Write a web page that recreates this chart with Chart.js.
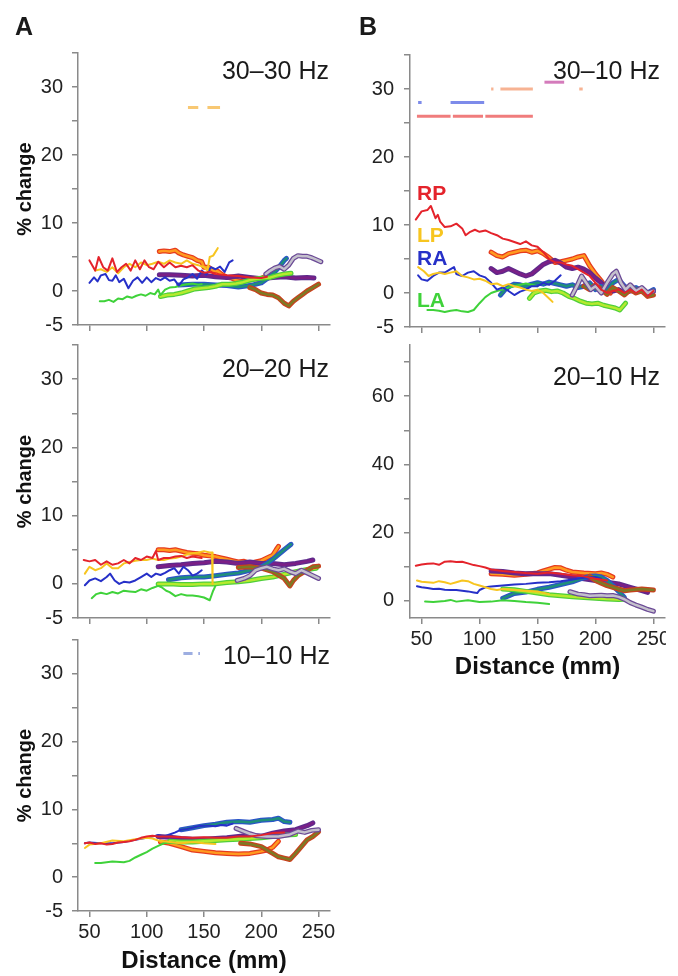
<!DOCTYPE html>
<html>
<head>
<meta charset="utf-8">
<script src="https://cdn.jsdelivr.net/npm/chart.js@4"></script>
<style>
  body { margin: 0; background: #fff; }
  #fig { position: relative; width: 678px; height: 976px; overflow: hidden; }
  canvas { position: absolute; }
  .txt { position: absolute; line-height: 1; white-space: nowrap; color: #1a1a1a; }
  .letter { font: bold 25px "Liberation Sans", Arial, sans-serif; }
  .hz { font: 25px "Liberation Sans", Arial, sans-serif; text-align: right; }
  .lab { font: bold 21px "Liberation Sans Narrow", "Liberation Sans", Arial, sans-serif; }
</style>
</head>
<body>
<div id="fig">
  <canvas id="a1" width="340" height="335" style="left:0;top:0"></canvas>
  <canvas id="a2" width="340" height="293" style="left:0;top:335px"></canvas>
  <canvas id="a3" width="340" height="348" style="left:0;top:628px"></canvas>
  <canvas id="b1" width="326" height="335" style="left:340px;top:0"></canvas>
  <canvas id="b2" width="326" height="347" style="left:340px;top:335px"></canvas>

  <div class="txt letter" style="left:15px;top:12px">A</div>
  <div class="txt letter" style="left:359px;top:12px">B</div>
  <div class="txt hz" style="left:0;width:329px;top:56px">30–30 Hz</div>
  <div class="txt hz" style="left:0;width:329px;top:354px">20–20 Hz</div>
  <div class="txt hz" style="left:0;width:330px;top:641px">10–10 Hz</div>
  <div class="txt hz" style="left:340px;width:320px;top:56px">30–10 Hz</div>
  <div class="txt hz" style="left:340px;width:320px;top:362px">20–10 Hz</div>
  <div class="txt lab" style="left:417px;top:181px;color:#e4232b">RP</div>
  <div class="txt lab" style="left:417px;top:223px;color:#f7c520">LP</div>
  <div class="txt lab" style="left:417px;top:246px;color:#2630c8">RA</div>
  <div class="txt lab" style="left:417px;top:288px;color:#3fd23a">LA</div>
</div>
<script>
// axis ticks
const X_TICKS = [50, 100, 150, 200, 250];
const Y_TICKS = [-5, 0, 5, 10, 15, 20, 25, 30, 35];
const Y_LABELS = [-5, 0, 10, 20, 30];
const Y_TICKS_B2 = [0, 10, 20, 30, 40, 50, 60, 70];
const Y_LABELS_B2 = [0, 20, 40, 60];

// ---- A: 30-30 Hz ----
const a1RP = [[50,4.5],[55,3],[58,5],[62,3.5],[66,3],[70,4.8],[74,2.8],[78,3.5],[82,4],[86,3],[90,4.5],[94,3.2],[98,4.5],[102,3.5],[106,3.2],[110,4.3],[115,3.5],[120,4.2],[125,3.5],[130,3.7],[135,3.5],[140,3.8],[145,3],[150,2.7],[155,2.8],[160,2.5],[170,2.3],[180,2.2],[190,2.0],[200,1.9],[205,2.1]];
const a1LP = [[55,3],[60,3.2],[65,2.8],[70,3.5],[75,2.6],[80,3.5],[85,4],[90,3.5],[95,4.2],[100,3.8],[105,4],[110,4.3],[115,4],[120,4.5],[125,4.2],[130,4],[135,4.5],[140,4],[145,3.8],[150,3.5],[153,3],[155,5],[158,5.2],[162,6.3]];
const a1RA = [[50,1.2],[54,2],[57,1.4],[60,2.3],[64,2.5],[67,1.6],[70,1.5],[73,2.3],[76,1.3],[80,1.8],[84,0.4],[88,1.5],[92,2],[96,1.2],[100,2],[104,1.3],[108,1.9],[112,1.6],[116,2],[120,1.5],[124,1.7],[128,0.8],[132,1.7],[136,2],[140,2.5],[144,1.8],[148,3],[152,2.4],[156,3.5],[160,3.2],[164,3.6],[168,2.8],[172,4.2],[175,4.5]];
const a1LA = [[59,-1.5],[63,-1.5],[67,-1.3],[71,-1.6],[75,-1.1],[79,-1.2],[83,-0.8],[87,-1.0],[91,-0.7],[95,-0.5],[99,-0.7],[103,-0.3],[107,-0.5],[110,0.2],[112,-0.6],[116,0.2],[120,0.5],[125,0.6],[130,0.8],[135,1.0],[140,1.1],[145,0.9],[148,1.0]];
const a1Orange = [[111,5.8],[115,5.9],[120,5.8],[125,6.0],[128,5.6],[132,5.3],[136,5.1],[140,4.9],[144,4.5],[148,4.3],[150,3.5],[154,3.5],[158,3.0],[162,2.9],[166,2.4],[170,2.0],[174,1.9],[178,1.6],[182,1.4],[186,1.5],[190,1.6],[194,1.8],[198,1.7],[202,2],[206,2.4],[210,2.6]];
const a1Purple = [[111,2.4],[120,2.4],[130,2.3],[140,2.2],[150,2.3],[160,2.1],[170,2.0],[180,2.2],[190,2.0],[200,1.8],[210,2.0],[220,2.1],[230,1.9],[240,2.0],[246,1.9]];
const a1Teal = [[128,0.9],[140,1.0],[150,1.0],[160,0.9],[170,0.8],[180,0.6],[190,0.8],[200,1.2],[205,1.8],[210,2.5],[215,3.4],[220,4.5],[222,4.8]];
const a1Lime = [[112,-0.8],[118,-0.6],[124,-0.5],[130,-0.3],[136,0],[142,0.3],[148,0.4],[154,0.5],[160,0.7],[166,1.0],[172,1.0],[178,1.1],[184,1.3],[190,1.6],[196,1.8],[202,1.9],[208,2.0],[214,2.3],[220,2.5],[226,2.6]];
const a1Olive = [[190,0.5],[195,0.2],[200,-0.3],[205,-0.5],[210,-0.6],[215,-1.0],[220,-1.8],[224,-2.2],[228,-1.5],[232,-1.0],[236,-0.5],[240,0],[245,0.5],[250,1.0]];
const a1Gray = [[204,2.5],[208,3],[212,3.4],[216,3.6],[220,3.2],[224,3.8],[228,4.8],[232,5.2],[236,5.1],[240,5.1],[244,4.9],[248,4.6],[252,4.3]];

// ---- A: 20-20 Hz ----
const a2RP = [[45,3.5],[50,3.3],[55,3.5],[60,2.8],[65,3.3],[70,2.8],[75,3.0],[80,3.5],[85,3.0],[90,3.8],[95,3.5],[100,4.0],[105,3.8],[108,4.8],[110,3.5],[115,3.8],[120,3.8],[125,4.0],[130,4.1],[135,3.8],[140,4.0],[148,3.8]];
const a2LP = [[46,1.5],[50,2.5],[55,2.0],[60,2.3],[65,3.0],[70,2.3],[75,2.3],[80,3.0],[85,3.2],[90,3.4],[95,3.5],[100,3.5],[105,3.7],[110,3.5],[115,3.5],[120,3.7],[125,3.8],[130,4.0],[135,4.3],[140,4.5],[145,4.6],[150,4.8],[155,4.6],[157,4.6],[157.5,0]];
const a2RA = [[46,-0.2],[50,0.5],[55,0.8],[60,0.4],[65,1.0],[68,1.5],[72,0.5],[76,0.0],[80,0.3],[85,0.2],[90,0.5],[95,1.0],[100,1.5],[104,1.0],[108,1.5],[112,1.3],[116,1.6],[120,2.0],[124,2.3],[128,1.5],[132,2.5],[136,2.0],[140,1.2],[144,1.5],[148,2.0]];
const a2LA = [[52,-2.1],[56,-1.5],[60,-1.3],[65,-1.5],[70,-1.2],[75,-1.4],[80,-1.0],[85,-1.1],[90,-1.2],[95,-0.8],[100,-1.0],[105,-0.6],[110,-0.3],[113,-0.5],[117,-1.0],[120,-1.2],[125,-1.8],[130,-1.5],[135,-1.7],[140,-1.7],[145,-1.8],[150,-2.0],[155,-2.4],[158,-1.0],[160,-0.3]];
const a2Orange = [[110,5.0],[115,5.0],[120,4.9],[125,5.0],[130,4.8],[135,4.6],[140,4.5],[145,4.4],[150,4.2],[155,4.1],[160,4.0],[165,3.8],[170,3.6],[175,3.4],[180,3.2],[185,3.3],[190,3.0],[195,3.2],[200,3.4],[205,3.8],[210,4.2],[213,5.0],[215,5.5]];
const a2Purple = [[110,2.5],[120,2.7],[130,2.8],[140,3.0],[150,3.1],[160,3.3],[170,3.2],[180,3.0],[190,3.2],[200,3.0],[210,3.0],[220,2.8],[230,3.0],[240,3.3],[245,3.5]];
const a2Teal = [[119,0.6],[130,0.9],[140,1.0],[150,1.0],[160,1.2],[170,1.4],[180,1.6],[190,2.0],[200,2.5],[205,3.0],[210,3.6],[215,4.3],[220,5.0],[226,5.8]];
const a2Lime = [[110,0],[120,0],[130,-0.1],[140,-0.1],[150,0],[160,0],[170,0.2],[180,0.3],[190,0.5],[200,0.8],[210,1.0],[220,1.4],[230,1.8],[240,2.1],[248,2.3]];
const a2Olive = [[180,2.4],[190,2.5],[200,2.3],[210,1.8],[215,1.3],[220,0.8],[225,-0.3],[228,0.5],[232,1.2],[236,1.6],[240,2.0],[245,2.5],[250,2.6]];
const a2Gray = [[179,0.5],[185,0.8],[190,1.2],[195,2.0],[200,2.3],[205,2.5],[210,2.2],[215,2.0],[220,2.2],[225,1.8],[230,1.5],[235,2.0],[240,1.6],[245,1.2],[250,0.8]];

// ---- A: 10-10 Hz ----
const a3RP = [[46,5.0],[50,5.1],[55,4.9],[60,5.0],[65,4.8],[70,4.9],[75,5.1],[80,5.2],[85,5.3],[90,5.5],[95,5.8],[100,6.0],[105,6.1],[110,6.0],[120,6.0],[130,5.9],[140,5.8],[150,5.9],[160,5.8],[170,5.8],[180,6.0],[190,6.0],[200,6.2],[210,6.5],[220,6.6]];
const a3LP = [[46,4.3],[50,4.8],[60,5.0],[70,5.4],[80,5.3],[90,5.6],[100,5.8],[105,5.7],[110,5.4],[120,5.2],[130,5.0],[140,5.2],[150,5.0],[160,4.9]];
const a3RA = [[46,5.0],[50,5.1],[60,5.0],[70,5.0],[80,5.2],[90,5.5],[100,5.8],[110,6.2],[115,6.0],[120,6.3],[125,6.6],[130,7.0],[135,7.1],[140,7.3],[145,7.5],[150,7.6],[155,7.6],[160,7.5],[165,7.7],[170,7.6],[175,7.9]];
const a3LA = [[55,2.1],[60,2.1],[70,2.3],[80,2.2],[85,2.4],[90,2.9],[95,3.3],[100,3.7],[105,4.2],[110,4.6],[115,5.0],[120,5.1],[125,5.1]];
const a3Orange = [[112,5.2],[120,5.0],[130,4.5],[140,4.0],[150,3.8],[160,3.6],[170,3.5],[180,3.4],[190,3.5],[200,3.8],[205,4.0],[210,4.4],[215,5.3]];
const a3Purple = [[110,6.0],[120,5.9],[130,5.7],[140,5.6],[150,5.6],[160,5.7],[170,5.8],[180,6.0],[190,6.2],[200,6.0],[210,6.5],[220,6.8],[230,7.0],[240,7.6],[245,8.0]];
const a3Teal = [[130,7.0],[140,7.3],[150,7.6],[160,7.8],[170,8.1],[180,8.2],[190,8.1],[200,8.4],[210,8.5],[215,8.7],[220,8.2],[225,8.1]];
const a3Lime = [[120,5.3],[130,5.2],[140,5.2],[150,5.3],[160,5.4],[170,5.5],[180,5.6],[190,5.7],[200,5.8],[210,6.0],[220,6.2],[230,6.3]];
const a3Olive = [[182,5.0],[190,4.9],[200,4.5],[205,4.0],[210,3.5],[215,3.0],[220,2.8],[225,2.6],[230,3.5],[235,4.5],[240,5.5],[245,6.0],[250,6.7]];
const a3Gray = [[178,7.2],[184,6.8],[190,6.4],[196,6.1],[205,6.0],[215,6.0],[225,6.3],[232,6.8],[238,6.6],[244,6.9],[250,7.0]];

// ---- B: 30-10 Hz ----
const b1RP = [[45,10.8],[50,12],[55,12.2],[58,12.8],[62,11],[64,11.5],[66,10.5],[70,9.7],[75,9.8],[80,10.2],[85,9.5],[88,8.5],[92,9.0],[96,9.3],[100,9.0],[105,9.2],[110,8.8],[115,8.5],[120,8.0],[125,7.8],[130,7.5],[135,7.2],[140,7.6],[145,7.0],[150,6.8],[155,6.0],[160,5.0],[165,4.5],[170,4.5],[175,4.2],[180,4.0],[185,3.5],[190,3.0],[195,2.5],[200,1.5],[205,0.5],[210,0.0],[215,0.3],[220,0.5],[225,0.0],[230,0.5],[235,0.0],[240,0.5],[245,-0.5],[250,0.3]];
const b1LP = [[47,3.8],[52,3.2],[56,2.5],[60,2.8],[65,3.0],[70,2.8],[75,3.0],[80,3.2],[85,2.5],[90,2.3],[95,2.0],[100,2.1],[105,1.8],[110,1.3],[115,1.4],[120,1.0],[125,1.3],[130,1.0],[135,0.8],[140,0.5],[145,0.3],[150,0.5],[155,0.0],[160,-0.8],[163,-1.3]];
const b1RA = [[47,2.6],[50,2.0],[55,1.8],[60,2.5],[65,3.0],[70,3.0],[75,3.5],[78,3.8],[80,2.8],[85,2.5],[90,3.0],[95,3.2],[100,2.6],[105,2.3],[110,1.5],[115,0.5],[120,0.8],[125,0.3],[130,-0.3],[135,0.2],[140,0.5],[145,1.0],[150,1.0],[155,1.5],[160,1.2],[165,1.8],[170,2.6]];
const b1LA = [[55,-2.5],[60,-2.5],[65,-2.6],[70,-2.8],[75,-2.6],[80,-2.5],[85,-2.7],[90,-2.8],[95,-2.5],[100,-1.5],[105,-0.6],[110,0.0],[115,0.3],[120,0.5],[125,0.8],[130,1.0],[135,1.2],[140,1.4],[145,1.2],[150,1.0]];
const b1Orange = [[110,6.0],[115,5.5],[120,5.3],[125,5.8],[130,6.0],[135,6.2],[140,6.3],[145,6.0],[150,6.2],[155,5.8],[160,5.2],[165,4.5],[170,4.6],[175,4.8],[180,5.0],[185,5.3],[190,5.5],[195,4.0],[200,2.8],[205,1.8],[210,0.5],[213,0.0]];
const b1Purple = [[110,3.6],[115,3.0],[120,3.2],[125,3.6],[130,3.2],[135,2.8],[140,2.5],[145,2.8],[150,3.5],[155,4.2],[160,4.6],[165,4.8],[170,4.4],[175,3.8],[180,3.6],[185,3.8],[190,3.5],[195,3.0],[200,2.2],[205,1.5],[210,0.5],[215,0.3],[220,0.5],[225,0.0],[230,0.3],[235,0.5],[240,0.2],[245,0.0],[250,0.3]];
const b1Teal = [[118,-0.3],[122,0.5],[126,1.0],[130,1.3],[135,1.2],[140,1.0],[145,1.3],[150,1.5],[155,1.3],[160,1.6],[165,1.4],[170,1.2],[175,1.0],[180,1.2],[185,0.8],[190,1.0],[195,1.5],[200,0.5],[205,1.0],[210,0.3],[215,1.5],[220,2.0],[225,1.0],[230,0.5],[235,0.8],[240,0.3],[245,0.0],[250,0.5]];
const b1Lime = [[143,-0.8],[147,0.0],[152,0.3],[157,0.4],[162,0.2],[167,0.3],[172,0.0],[177,-0.5],[182,-0.8],[187,-1.2],[192,-1.5],[197,-1.6],[202,-1.5],[207,-1.8],[212,-2.0],[217,-2.2],[221,-2.5],[226,-1.5]];
const b1Olive = [[190,1.0],[195,0.5],[200,1.2],[205,0.5],[210,-0.2],[215,0.8],[220,0.3],[225,-0.3],[230,0.5],[235,0.0],[240,0.3],[245,-0.5],[250,-0.3]];
const b1Gray = [[180,-0.3],[184,1.0],[188,2.5],[192,1.5],[196,0.5],[200,1.0],[205,0.0],[210,1.5],[215,2.8],[218,3.2],[222,1.5],[226,0.5],[230,1.2],[235,0.3],[240,0.8],[245,0.0],[250,0.3]];

// ---- B: 20-10 Hz ----
const b2RP = [[45,10.3],[50,10.7],[55,10.9],[60,11.0],[65,10.6],[70,11.5],[75,11.6],[80,11.4],[85,11.5],[90,11.0],[95,10.5],[100,10.2],[105,9.8],[110,9.2],[120,8.8],[130,8.5],[140,8.2],[150,8.0],[160,8.3],[170,8.0],[180,7.5],[190,7.2],[200,6.5],[210,6.0]];
const b2LP = [[46,6.0],[50,5.6],[55,5.5],[60,5.3],[65,5.8],[70,5.5],[75,5.0],[80,5.5],[85,6.0],[90,5.8],[95,5.0],[100,4.5],[105,4.0],[110,3.5],[115,3.2],[120,3.5],[130,3.2],[140,3.0],[150,2.8],[160,2.0]];
const b2RA = [[46,4.3],[50,4.0],[55,3.8],[60,3.5],[65,3.6],[70,3.3],[75,3.2],[80,3.2],[85,3.0],[90,2.8],[95,2.5],[98,2.3],[100,3.2],[105,4.0],[110,4.2],[120,4.5],[130,4.8],[140,5.0],[150,5.3],[160,5.5],[170,5.8],[180,6.3],[190,6.8],[200,7.0],[205,6.5]];
const b2LA = [[53,-0.2],[60,-0.3],[70,0.0],[75,0.3],[80,-0.2],[90,0.2],[100,-0.3],[110,-0.2],[120,0.2],[130,0.0],[140,-0.3],[150,-0.5],[160,-0.9]];
const b2Orange = [[110,8.0],[120,7.8],[130,7.5],[140,7.8],[150,8.2],[155,8.8],[160,9.3],[165,9.8],[170,9.7],[175,9.0],[180,8.5],[190,8.2],[200,8.0],[205,8.2],[210,7.8],[215,7.0]];
const b2Purple = [[110,8.8],[120,8.6],[130,8.2],[140,8.0],[150,8.0],[160,8.0],[170,7.5],[180,7.0],[190,6.5],[200,6.0],[210,5.5],[220,5.0],[230,4.0],[240,3.0],[245,2.5]];
const b2Teal = [[120,0.8],[125,1.5],[130,2.2],[140,2.6],[150,3.4],[160,4.0],[170,4.8],[180,5.6],[190,6.8],[195,7.2],[200,7.3],[205,7.0],[210,6.0],[215,4.5],[220,2.8],[225,1.0]];
const b2Lime = [[120,3.5],[130,3.3],[140,2.8],[150,2.3],[160,1.8],[170,1.5],[180,1.2],[190,1.0],[200,0.8],[210,0.6],[220,0.4],[225,0.5]];
const b2Olive = [[195,7.2],[200,6.0],[205,5.2],[210,4.5],[215,4.0],[220,3.5],[225,3.0],[230,3.2],[240,3.5],[250,3.2]];
const b2Gray = [[178,2.7],[185,2.0],[190,1.8],[195,1.5],[200,1.6],[205,1.7],[210,1.5],[215,1.6],[220,1.2],[225,0.5],[230,-0.5],[235,-1.2],[240,-1.8],[245,-2.5],[250,-3.0]];

// significance bars: [start, end] in mm, with their level
const a1SigOrange = [[136,145],[153,164]];
const a3SigBlue = [[132,140],[145,146.5]];
const b1SigBlue = [[47,50],[75,104]];
const b1SigRed = [[46,75],[77,103],[105,146]];
const b1SigSalmon = [[110,112],[118,146],[186,189]];
const b1SigPink = [[156,173]];

const AXIS = '#8a8a8a';
const NARROW = '"Liberation Sans Narrow", "Liberation Sans", Arial, sans-serif';
const BOLD = '"Liberation Sans", Arial, sans-serif';

// thin lines for the four sites, thick outlined ones for the rest
const THIN = { RP: '#e4232b', LP: '#f7c520', RA: '#2630c8', LA: '#3fd23a' };
const THICK = {
    Orange: ['#ff9a1f', '#e63b1e'],
    Purple: ['#7b1f86', '#5e2a8c'],
    Teal:   ['#1f8f7a', '#2b55c8'],
    Lime:   ['#b5ea2e', '#4fcf3a'],
    Olive:  ['#7d7a24', '#c8421e'],
    Gray:   ['#c4c0cc', '#6b4a96']
};

function pts(arr) {
    return arr.map(p => ({ x: p[0], y: p[1] }));
}

function bars(pieces, level) {
    const out = [];
    pieces.forEach(p => {
        out.push({ x: p[0], y: level }, { x: p[1], y: level }, { x: p[1] + 0.1, y: null });
    });
    return out;
}

function makePanel(cfg) {
    const datasets = [];
    Object.keys(cfg.thin).forEach(k => {
        datasets.push({ data: pts(cfg.thin[k]), borderColor: THIN[k], borderWidth: 2, order: 1 });
    });
    let n = 0;
    Object.keys(cfg.thick).forEach(k => {
        const c = THICK[k];
        datasets.push({ data: pts(cfg.thick[k]), borderColor: c[1], borderWidth: 5, order: 30 - n * 2 });
        datasets.push({ data: pts(cfg.thick[k]), borderColor: c[0], borderWidth: 2.5, order: 29 - n * 2 });
        n++;
    });
    (cfg.sig || []).forEach(s => {
        datasets.push({ data: bars(s.pieces, s.level), borderColor: s.color, borderWidth: 3, order: 0, borderCapStyle: 'butt' });
    });

    new Chart(document.getElementById(cfg.id), {
        type: 'line',
        data: { datasets: datasets },
        options: {
            responsive: false,
            animation: false,
            spanGaps: false,
            layout: { padding: { top: cfg.padTop, right: cfg.padRight, left: 0, bottom: 0 } },
            plugins: { legend: { display: false }, tooltip: { enabled: false } },
            elements: {
                point: { radius: 0 },
                line: { tension: 0, borderJoinStyle: 'round', borderCapStyle: 'round' }
            },
            scales: {
                x: {
                    type: 'linear',
                    min: 40,
                    max: 260,
                    afterBuildTicks: s => { s.ticks = X_TICKS.map(v => ({ value: v })); },
                    afterFit: s => { s.height = cfg.xHeight; s.paddingLeft = 0; s.paddingRight = 0; },
                    border: { color: AXIS, width: 1.5 },
                    grid: { drawOnChartArea: false, tickLength: 6, color: AXIS, lineWidth: 1.5 },
                    ticks: { display: cfg.xLabels, font: { family: NARROW, size: 20 }, color: '#222', padding: 3, maxRotation: 0, autoSkip: false },
                    title: { display: cfg.xLabels, text: 'Distance (mm)', font: { family: BOLD, size: 24, weight: 'bold' }, color: '#111', padding: { top: 0, bottom: 0 } }
                },
                y: {
                    min: cfg.yMin,
                    max: cfg.yMax,
                    afterBuildTicks: s => { s.ticks = cfg.yTicks.map(v => ({ value: v })); },
                    afterFit: s => { s.width = cfg.yWidth; s.paddingTop = 0; s.paddingBottom = 0; },
                    border: { color: AXIS, width: 1.5 },
                    grid: { drawOnChartArea: false, tickLength: 6, color: AXIS, lineWidth: 1.5 },
                    ticks: {
                        font: { family: NARROW, size: 20 },
                        color: '#222',
                        padding: cfg.yPad,
                        autoSkip: false,
                        callback: v => cfg.yLabels.includes(v) ? String(v) : ''
                    },
                    title: { display: cfg.yTitle, text: '% change', font: { family: BOLD, size: 20, weight: 'bold' }, color: '#111', padding: { top: 13, bottom: 0 } }
                }
            }
        }
    });
}

const left = { padRight: 10, yWidth: 78, yPad: 9, yTitle: true, yMin: -5, yMax: 35, yTicks: Y_TICKS, yLabels: Y_LABELS };
const right = { padRight: 1, yWidth: 70, yPad: 10, yTitle: false };

makePanel(Object.assign({}, left, {
    id: 'a1', padTop: 53, xHeight: 10, xLabels: false,
    thin: { RP: a1RP, LP: a1LP, RA: a1RA, LA: a1LA },
    thick: { Orange: a1Orange, Purple: a1Purple, Teal: a1Teal, Lime: a1Lime, Olive: a1Olive, Gray: a1Gray },
    sig: [{ pieces: a1SigOrange, level: 27, color: 'rgba(247,190,90,0.85)' }]
}));
makePanel(Object.assign({}, left, {
    id: 'a2', padTop: 10, xHeight: 10, xLabels: false,
    thin: { RP: a2RP, LP: a2LP, RA: a2RA, LA: a2LA },
    thick: { Orange: a2Orange, Purple: a2Purple, Teal: a2Teal, Lime: a2Lime, Olive: a2Olive, Gray: a2Gray }
}));
makePanel(Object.assign({}, left, {
    id: 'a3', padTop: 12, xHeight: 65, xLabels: true,
    thin: { RP: a3RP, LP: a3LP, RA: a3RA, LA: a3LA },
    thick: { Orange: a3Orange, Purple: a3Purple, Teal: a3Teal, Lime: a3Lime, Olive: a3Olive, Gray: a3Gray },
    sig: [{ pieces: a3SigBlue, level: 33, color: 'rgba(140,160,220,0.85)' }]
}));
makePanel(Object.assign({}, right, {
    id: 'b1', padTop: 55, xHeight: 8, xLabels: false,
    yMin: -5, yMax: 35, yTicks: Y_TICKS, yLabels: Y_LABELS,
    thin: { RP: b1RP, LP: b1LP, RA: b1RA, LA: b1LA },
    thick: { Orange: b1Orange, Purple: b1Purple, Teal: b1Teal, Lime: b1Lime, Olive: b1Olive, Gray: b1Gray },
    sig: [
        { pieces: b1SigBlue, level: 28, color: 'rgba(70,90,225,0.7)' },
        { pieces: b1SigRed, level: 26, color: 'rgba(235,80,80,0.75)' },
        { pieces: b1SigSalmon, level: 30, color: 'rgba(245,160,120,0.8)' },
        { pieces: b1SigPink, level: 31, color: 'rgba(205,100,175,0.85)' }
    ]
}));
makePanel(Object.assign({}, right, {
    id: 'b2', padTop: 10, xHeight: 64, xLabels: true,
    yMin: -5, yMax: 75, yTicks: Y_TICKS_B2, yLabels: Y_LABELS_B2,
    thin: { RP: b2RP, LP: b2LP, RA: b2RA, LA: b2LA },
    thick: { Orange: b2Orange, Purple: b2Purple, Teal: b2Teal, Lime: b2Lime, Olive: b2Olive, Gray: b2Gray }
}));
</script>
</body>
</html>
